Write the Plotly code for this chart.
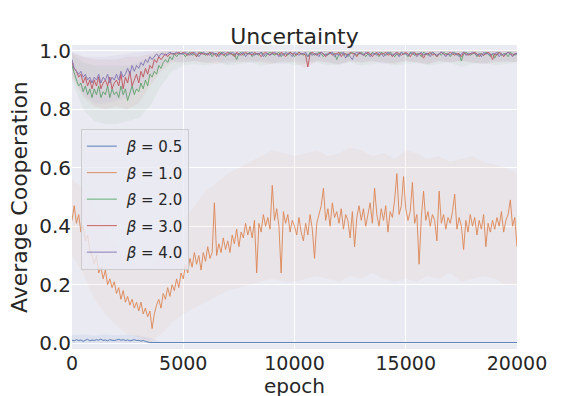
import plotly.graph_objects as go

# ---- data ----
epochs = list(range(0, 20001, 100))
band_epochs = list(range(0, 20001, 500))

beta_labels = ["0.5", "1.0", "2.0", "3.0", "4.0"]
colors = ["#4C72B0", "#DD8452", "#55A868", "#C44E52", "#8172B3"]
x_ticks = [0, 5000, 10000, 15000, 20000]
x_tick_text = ["0", "5000", "10000", "15000", "20000"]

# beta = 0.5 : only noisy up to 3500, flat afterwards
blue_epochs = epochs[:36] + [20000]
blue_vals = [0.010, 0.008, 0.012, 0.009, 0.011, 0.006, 0.010, 0.013, 0.008, 0.011,
             0.009, 0.012, 0.010, 0.014, 0.009, 0.011, 0.008, 0.012, 0.010, 0.009,
             0.011, 0.013, 0.010, 0.012, 0.009, 0.011, 0.008, 0.010, 0.012, 0.009,
             0.010, 0.007, 0.009, 0.006, 0.004, 0.002, 0.002]

orange_vals = [
    0.42, 0.47, 0.41, 0.44, 0.38, 0.40, 0.35, 0.37, 0.32, 0.30,
    0.27, 0.30, 0.24, 0.26, 0.22, 0.25, 0.20, 0.22, 0.19, 0.21,
    0.17, 0.19, 0.15, 0.18, 0.14, 0.16, 0.13, 0.15, 0.12, 0.14,
    0.11, 0.14, 0.10, 0.12, 0.09, 0.11, 0.05, 0.10, 0.13, 0.15,
    0.12, 0.17, 0.15, 0.19, 0.16, 0.20, 0.18, 0.22, 0.19, 0.24,
    0.22, 0.27, 0.24, 0.29, 0.26, 0.31, 0.27, 0.30, 0.25, 0.31,
    0.28, 0.33, 0.29, 0.31, 0.48, 0.30, 0.34, 0.31, 0.36, 0.32,
    0.35, 0.31, 0.37, 0.34, 0.39, 0.33, 0.38, 0.36, 0.41, 0.37,
    0.40, 0.36, 0.42, 0.24, 0.41, 0.38, 0.44, 0.40, 0.43, 0.39,
    0.54, 0.42, 0.46, 0.40, 0.24, 0.45, 0.41, 0.44, 0.38, 0.42,
    0.40, 0.37, 0.43, 0.38, 0.35, 0.41, 0.37, 0.44, 0.39, 0.29,
    0.41, 0.44, 0.47, 0.53, 0.42, 0.46, 0.40, 0.48, 0.43, 0.45,
    0.41, 0.46, 0.39, 0.44, 0.42, 0.36, 0.45, 0.33, 0.43, 0.47,
    0.42, 0.46, 0.40, 0.44, 0.48, 0.41, 0.53, 0.44, 0.40, 0.46,
    0.42, 0.47, 0.38, 0.45, 0.43, 0.49, 0.58, 0.44, 0.47, 0.57,
    0.46, 0.42, 0.45, 0.55, 0.41, 0.44, 0.27, 0.43, 0.52, 0.42,
    0.45, 0.40, 0.44, 0.42, 0.35, 0.52, 0.41, 0.44, 0.39, 0.43,
    0.41, 0.45, 0.51, 0.39, 0.43, 0.40, 0.32, 0.42, 0.38, 0.44,
    0.40, 0.43, 0.37, 0.42, 0.39, 0.44, 0.33, 0.41, 0.38, 0.42,
    0.39, 0.43, 0.40, 0.45, 0.38, 0.42, 0.44, 0.49, 0.40, 0.43,
    0.33]

green_vals = [
    0.95, 0.92, 0.90, 0.88, 0.89, 0.86, 0.88, 0.85, 0.87, 0.84,
    0.87, 0.85, 0.88, 0.84, 0.86, 0.85, 0.88, 0.84, 0.87, 0.85,
    0.86, 0.84, 0.88, 0.85, 0.87, 0.83, 0.86, 0.88, 0.85, 0.87,
    0.86, 0.89, 0.87, 0.90, 0.88, 0.92, 0.91, 0.93, 0.92, 0.95,
    0.94, 0.96, 0.97, 0.96, 0.98, 0.97, 0.99, 0.98, 0.99, 0.99,
    0.99, 0.98, 0.99, 0.995, 0.985, 0.99, 0.98, 0.99, 0.995, 0.99,
    0.985, 0.99, 0.995, 0.98, 0.99, 0.99, 0.985, 0.995, 0.99, 0.98,
    0.99, 0.995, 0.985, 0.99, 0.97, 0.99, 0.995, 0.985, 0.99, 0.99,
    0.995, 0.98, 0.99, 0.99, 0.985, 0.995, 0.99, 0.98, 0.99, 0.995,
    0.99, 0.985, 0.99, 0.995, 0.98, 0.99, 0.99, 0.985, 0.995, 0.99,
    0.98, 0.99, 0.995, 0.99, 0.985, 0.99, 0.98, 0.995, 0.99, 0.985,
    0.99, 0.995, 0.99, 0.98, 0.99, 0.985, 0.995, 0.99, 0.99, 0.97,
    0.99, 0.995, 0.985, 0.99, 0.98, 0.99, 0.995, 0.99, 0.985, 0.99,
    0.995, 0.99, 0.98, 0.99, 0.985, 0.995, 0.99, 0.99, 0.98, 0.995,
    0.99, 0.985, 0.99, 0.995, 0.99, 0.98, 0.99, 0.985, 0.995, 0.99,
    0.99, 0.98, 0.995, 0.99, 0.985, 0.99, 0.99, 0.98, 0.995, 0.99,
    0.985, 0.99, 0.995, 0.99, 0.98, 0.99, 0.985, 0.995, 0.99, 0.99,
    0.98, 0.99, 0.995, 0.985, 0.99, 0.965, 0.99, 0.995, 0.99, 0.985,
    0.99, 0.995, 0.98, 0.99, 0.99, 0.985, 0.995, 0.99, 0.98, 0.99,
    0.975, 0.99, 0.995, 0.985, 0.99, 0.99, 0.98, 0.995, 0.99, 0.985,
    0.99]

red_vals = [
    0.96, 0.94, 0.93, 0.91, 0.92, 0.89, 0.91, 0.88, 0.90, 0.87,
    0.90, 0.88, 0.91, 0.87, 0.89, 0.90, 0.88, 0.91, 0.87, 0.89,
    0.90, 0.88, 0.92, 0.87, 0.91, 0.89, 0.93, 0.88, 0.90, 0.92,
    0.89, 0.93, 0.91, 0.94, 0.92, 0.95, 0.94, 0.97, 0.96, 0.98,
    0.97, 0.98, 0.99, 0.98, 0.99, 0.99, 0.99, 0.99, 0.995, 0.99,
    0.995, 0.99, 0.985, 0.99, 0.995, 0.99, 0.98, 0.995, 0.99, 0.99,
    0.99, 0.985, 0.995, 0.99, 0.99, 0.98, 0.995, 0.99, 0.985, 0.99,
    0.995, 0.99, 0.99, 0.98, 0.995, 0.99, 0.985, 0.99, 0.995, 0.99,
    0.99, 0.985, 0.995, 0.99, 0.99, 0.98, 0.99, 0.995, 0.99, 0.985,
    0.995, 0.99, 0.99, 0.985, 0.995, 0.99, 0.98, 0.99, 0.995, 0.99,
    0.99, 0.985, 0.995, 0.99, 0.99, 0.985, 0.945, 0.99, 0.995, 0.99,
    0.985, 0.99, 0.995, 0.99, 0.98, 0.99, 0.995, 0.985, 0.99, 0.99,
    0.995, 0.98, 0.99, 0.99, 0.985, 0.995, 0.99, 0.99, 0.98, 0.995,
    0.99, 0.985, 0.99, 0.995, 0.99, 0.98, 0.99, 0.995, 0.985, 0.99,
    0.99, 0.995, 0.985, 0.99, 0.98, 0.99, 0.995, 0.99, 0.985, 0.99,
    0.995, 0.99, 0.98, 0.99, 0.995, 0.985, 0.99, 0.99, 0.975, 0.99,
    0.99, 0.995, 0.985, 0.99, 0.98, 0.99, 0.995, 0.99, 0.985, 0.99,
    0.995, 0.99, 0.985, 0.99, 0.99, 0.98, 0.995, 0.99, 0.985, 0.99,
    0.99, 0.995, 0.99, 0.98, 0.99, 0.985, 0.99, 0.995, 0.99, 0.97,
    0.99, 0.985, 0.995, 0.99, 0.98, 0.99, 0.995, 0.99, 0.985, 0.99,
    0.99]

purple_vals = [
    0.97, 0.94, 0.93, 0.92, 0.93, 0.91, 0.92, 0.90, 0.91, 0.89,
    0.91, 0.90, 0.92, 0.89, 0.91, 0.90, 0.92, 0.89, 0.91, 0.90,
    0.92, 0.90, 0.93, 0.91, 0.92, 0.94, 0.92, 0.95, 0.93, 0.95,
    0.94, 0.96, 0.95, 0.97, 0.96, 0.98, 0.97, 0.98, 0.99, 0.98,
    0.99, 0.99, 0.985, 0.99, 0.995, 0.99, 0.99, 0.995, 0.99, 0.99,
    0.99, 0.995, 0.99, 0.985, 0.99, 0.995, 0.99, 0.98, 0.99, 0.995,
    0.99, 0.99, 0.985, 0.995, 0.99, 0.99, 0.98, 0.99, 0.995, 0.99,
    0.985, 0.99, 0.995, 0.99, 0.99, 0.985, 0.99, 0.995, 0.98, 0.99,
    0.99, 0.995, 0.985, 0.99, 0.99, 0.995, 0.98, 0.99, 0.99, 0.985,
    0.99, 0.995, 0.99, 0.98, 0.99, 0.985, 0.995, 0.99, 0.99, 0.98,
    0.995, 0.99, 0.985, 0.99, 0.99, 0.995, 0.98, 0.99, 0.985, 0.99,
    0.99, 0.98, 0.995, 0.99, 0.985, 0.99, 0.99, 0.995, 0.98, 0.99,
    0.985, 0.99, 0.995, 0.975, 0.99, 0.98, 0.97, 0.99, 0.995, 0.99,
    0.99, 0.985, 0.995, 0.99, 0.98, 0.99, 0.99, 0.985, 0.995, 0.99,
    0.98, 0.99, 0.995, 0.99, 0.985, 0.99, 0.99, 0.98, 0.995, 0.99,
    0.99, 0.985, 0.99, 0.995, 0.99, 0.98, 0.99, 0.995, 0.985, 0.99,
    0.99, 0.98, 0.995, 0.99, 0.985, 0.99, 0.995, 0.99, 0.98, 0.99,
    0.985, 0.995, 0.99, 0.99, 0.98, 0.99, 0.995, 0.985, 0.99, 0.99,
    0.995, 0.99, 0.985, 0.99, 0.98, 0.995, 0.99, 0.99, 0.985, 0.99,
    0.99, 0.995, 0.98, 0.99, 0.985, 0.99, 0.995, 0.99, 0.98, 0.99,
    0.99]

# confidence bands (every 500 epochs)
blue_lo = [
    0.000, 0.000, 0.000, 0.000, 0.000, 0.000, 0.000, 0.000, 0.000, 0.000,
    0.000, 0.000, 0.000, 0.000, 0.000, 0.000, 0.000, 0.000, 0.000, 0.000,
    0.000, 0.000, 0.000, 0.000, 0.000, 0.000, 0.000, 0.000, 0.000, 0.000,
    0.000, 0.000, 0.000, 0.000, 0.000, 0.000, 0.000, 0.000, 0.000, 0.000,
    0.000]
blue_hi = [
    0.028, 0.030, 0.026, 0.030, 0.027, 0.029, 0.025, 0.018, 0.004, 0.004,
    0.004, 0.004, 0.004, 0.004, 0.004, 0.004, 0.004, 0.004, 0.004, 0.004,
    0.004, 0.004, 0.004, 0.004, 0.004, 0.004, 0.004, 0.004, 0.004, 0.004,
    0.004, 0.004, 0.004, 0.004, 0.004, 0.004, 0.004, 0.004, 0.004, 0.004,
    0.004]
orange_lo = [
    0.30, 0.24, 0.15, 0.10, 0.06, 0.03, 0.02, 0.00, 0.03, 0.07,
    0.10, 0.12, 0.14, 0.16, 0.18, 0.19, 0.20, 0.21, 0.22, 0.21,
    0.21, 0.22, 0.23, 0.22, 0.21, 0.23, 0.22, 0.24, 0.22, 0.21,
    0.22, 0.21, 0.23, 0.22, 0.24, 0.21, 0.22, 0.23, 0.22, 0.20,
    0.20]
orange_hi = [
    0.56, 0.53, 0.46, 0.39, 0.33, 0.29, 0.27, 0.25, 0.30, 0.36,
    0.42, 0.47, 0.52, 0.55, 0.58, 0.60, 0.62, 0.64, 0.66, 0.65,
    0.64, 0.65, 0.66, 0.64, 0.65, 0.67, 0.66, 0.64, 0.65, 0.63,
    0.66, 0.65, 0.63, 0.64, 0.62, 0.63, 0.64, 0.62, 0.61, 0.60,
    0.58]
green_lo = [
    0.90, 0.80, 0.76, 0.75, 0.75, 0.76, 0.77, 0.81, 0.88, 0.93,
    0.95, 0.955, 0.95, 0.96, 0.95, 0.955, 0.96, 0.95, 0.955, 0.96,
    0.95, 0.955, 0.96, 0.95, 0.955, 0.96, 0.95, 0.955, 0.96, 0.95,
    0.955, 0.96, 0.95, 0.955, 0.96, 0.945, 0.955, 0.96, 0.95, 0.955,
    0.96]
green_hi = [
    0.99, 0.96, 0.95, 0.95, 0.95, 0.95, 0.96, 0.98, 0.995, 1.0,
    1.0, 1.0, 1.0, 1.0, 1.0, 1.0, 1.0, 1.0, 1.0, 1.0,
    1.0, 1.0, 1.0, 1.0, 1.0, 1.0, 1.0, 1.0, 1.0, 1.0,
    1.0, 1.0, 1.0, 1.0, 1.0, 1.0, 1.0, 1.0, 1.0, 1.0,
    1.0]
red_lo = [
    0.91, 0.84, 0.81, 0.80, 0.81, 0.80, 0.82, 0.88, 0.93, 0.96,
    0.96, 0.965, 0.96, 0.955, 0.965, 0.96, 0.965, 0.96, 0.955, 0.965,
    0.96, 0.94, 0.965, 0.96, 0.955, 0.965, 0.96, 0.965, 0.96, 0.955,
    0.965, 0.96, 0.955, 0.965, 0.96, 0.965, 0.96, 0.955, 0.96, 0.965,
    0.96]
red_hi = [
    0.995, 0.98, 0.97, 0.97, 0.97, 0.98, 0.98, 0.99, 1.0, 1.0,
    1.0, 1.0, 1.0, 1.0, 1.0, 1.0, 1.0, 1.0, 1.0, 1.0,
    1.0, 1.0, 1.0, 1.0, 1.0, 1.0, 1.0, 1.0, 1.0, 1.0,
    1.0, 1.0, 1.0, 1.0, 1.0, 1.0, 1.0, 1.0, 1.0, 1.0,
    1.0]
purple_lo = [
    0.92, 0.85, 0.82, 0.82, 0.83, 0.84, 0.87, 0.91, 0.95, 0.965,
    0.96, 0.965, 0.96, 0.965, 0.955, 0.965, 0.96, 0.965, 0.96, 0.955,
    0.965, 0.96, 0.965, 0.96, 0.95, 0.965, 0.96, 0.965, 0.955, 0.96,
    0.965, 0.96, 0.955, 0.965, 0.96, 0.965, 0.96, 0.955, 0.965, 0.96,
    0.965]
purple_hi = [
    0.995, 0.98, 0.98, 0.98, 0.985, 0.99, 0.995, 1.0, 1.0, 1.0,
    1.0, 1.0, 1.0, 1.0, 1.0, 1.0, 1.0, 1.0, 1.0, 1.0,
    1.0, 1.0, 1.0, 1.0, 1.0, 1.0, 1.0, 1.0, 1.0, 1.0,
    1.0, 1.0, 1.0, 1.0, 1.0, 1.0, 1.0, 1.0, 1.0, 1.0,
    1.0]

series = [
    (blue_epochs, blue_vals, blue_lo, blue_hi),
    (epochs, orange_vals, orange_lo, orange_hi),
    (epochs, green_vals, green_lo, green_hi),
    (epochs, red_vals, red_lo, red_hi),
    (epochs, purple_vals, purple_lo, purple_hi),
]
band_alpha = [0.08, 0.06, 0.07, 0.07, 0.07]


def rgba(hex_color, a):
    h = hex_color.lstrip("#")
    return f"rgba({int(h[0:2], 16)},{int(h[2:4], 16)},{int(h[4:6], 16)},{a})"


fig = go.Figure()
for (xs, ys, lo, hi), lab, col, a in zip(series, beta_labels, colors, band_alpha):
    # shaded band
    fig.add_trace(go.Scatter(
        x=band_epochs + band_epochs[::-1], y=hi + lo[::-1],
        fill="toself", fillcolor=rgba(col, a), line=dict(width=0),
        mode="lines", showlegend=False, hoverinfo="skip"))
    fig.add_trace(go.Scatter(
        x=xs, y=ys, mode="lines", name=f"\u00a0<i>β</i> = {lab}",
        legendgroup=lab, line=dict(color=col, width=0.9)))

txt = "#262626"
# page body has an 8px margin, so the figure is drawn 8px smaller
fig.update_layout(
    width=568, height=388,
    margin=dict(l=64, r=59, t=37, b=47),
    paper_bgcolor="white", plot_bgcolor="#EAEAF2",
    font=dict(family="DejaVu Sans", color=txt, size=20),
    title=dict(text="Uncertainty", x=0.5, xref="paper", xanchor="center",
               y=1 - 28 / 388, yref="container", yanchor="middle",
               font=dict(size=22, color=txt)),
    showlegend=True,
    legend=dict(x=0.02, y=0.724, xanchor="left", yanchor="top",
                bgcolor="rgba(234,234,242,0.8)", bordercolor="#CCCCCC",
                borderwidth=1, font=dict(size=15, color=txt),
                tracegroupgap=4),
)
# axis titles as annotations for exact placement
fig.add_annotation(text="epoch", xref="paper", yref="paper", x=0.5, y=0,
                   xanchor="center", yanchor="top", yshift=-23, showarrow=False,
                   font=dict(size=20, color=txt))
fig.add_annotation(text="Average Cooperation", xref="paper", yref="paper", x=0, y=0.5,
                   xanchor="center", yanchor="middle", xshift=-53, textangle=-90,
                   showarrow=False, font=dict(size=22, color=txt))
fig.update_xaxes(range=[0, 20000], tickvals=x_ticks, ticktext=x_tick_text,
                 showgrid=True, gridcolor="white", gridwidth=1, zeroline=False,
                 showline=False, ticks="", automargin=False, ticklabelstandoff=1,
                 tickfont=dict(size=19, color=txt))
fig.update_yaxes(range=[-0.02, 1.02], tickvals=[0, 0.2, 0.4, 0.6, 0.8, 1.0],
                 tickformat=".1f", showgrid=True, gridcolor="white", gridwidth=1,
                 zeroline=False, showline=False, ticks="", automargin=False,
                 tickfont=dict(size=20, color=txt))

fig.write_html("out.html")
